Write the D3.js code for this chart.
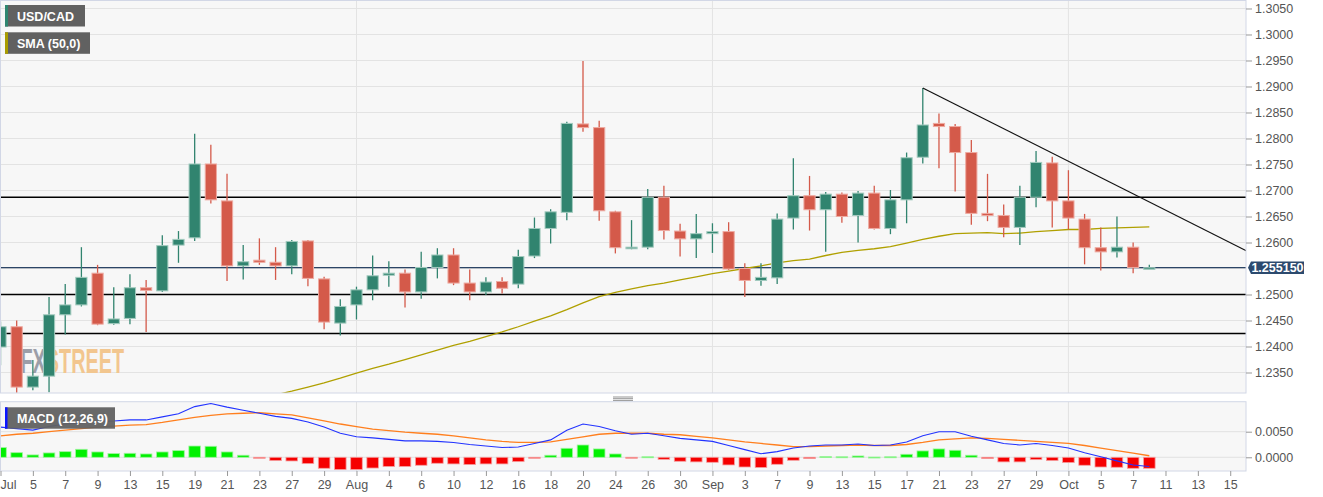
<!DOCTYPE html>
<html><head><meta charset="utf-8">
<script src="https://cdn.jsdelivr.net/npm/d3@7"></script>
<style>
html,body{margin:0;padding:0;background:#fff;}
svg{display:block;font-family:Arial,"Liberation Sans",sans-serif;}
</style></head>
<body>
<svg id="chart" width="1323" height="497"></svg>
<script>
// ---------- DATA ----------
const opens = [
 1.2399,1.2438,1.2322,1.2343,1.2461,1.2480,1.2541,1.2444,1.2454,1.2513,
 1.2507,1.2595,1.2609,1.2751,1.2680,1.2555,1.2566,1.2562,1.2555,1.2603,
 1.2530,1.2445,1.2480,1.2509,1.2537,1.2541,1.2505,1.2552,1.2576,1.2522,
 1.2505,1.2525,1.2520,1.2574,1.2627,1.2658,1.2828,1.2821,1.2659,1.2588,
 1.2591,1.2687,1.2622,1.2607,1.2617,1.2621,1.2550,1.2527,1.2532,1.2647,
 1.2690,1.2663,1.2693,1.2652,1.2695,1.2627,1.2682,1.2764,1.2829,1.2823,
 1.2773,1.2656,1.2652,1.2629,1.2687,1.2753,1.2680,1.2645,1.2590,1.2582,1.2591,1.2550];
const highs = [
 1.2448,1.2450,1.2374,1.2495,1.2520,1.2591,1.2557,1.2514,1.2539,1.2528,
 1.2614,1.2622,1.2809,1.2788,1.2732,1.2595,1.2608,1.2591,1.2605,1.2605,
 1.2534,1.2491,1.2515,1.2575,1.2564,1.2548,1.2582,1.2589,1.2589,1.2548,
 1.2533,1.2533,1.2586,1.2648,1.2664,1.2832,1.2949,1.2834,1.2661,1.2643,
 1.2703,1.2709,1.2636,1.2655,1.2637,1.2639,1.2560,1.2560,1.2656,1.2762,
 1.2728,1.2697,1.2696,1.2699,1.2709,1.2701,1.2773,1.2897,1.2848,1.2828,
 1.2797,1.2732,1.2673,1.2709,1.2776,1.2765,1.2739,1.2655,1.2629,1.2650,1.2600,1.2557];
const lows = [
 1.2364,1.2311,1.2316,1.2312,1.2423,1.2477,1.2441,1.2442,1.2443,1.2428,
 1.2505,1.2561,1.2603,1.2675,1.2526,1.2529,1.2557,1.2528,1.2539,1.2516,
 1.2433,1.2421,1.2452,1.2489,1.2515,1.2475,1.2492,1.2531,1.2518,1.2489,
 1.2499,1.2502,1.2512,1.2570,1.2598,1.2643,1.2813,1.2642,1.2579,1.2587,
 1.2587,1.2606,1.2573,1.2570,1.2580,1.2547,1.2495,1.2517,1.2520,1.2625,
 1.2623,1.2582,1.2638,1.2600,1.2625,1.2616,1.2637,1.2752,1.2743,1.2698,
 1.2634,1.2641,1.2610,1.2595,1.2668,1.2629,1.2625,1.2558,1.2546,1.2571,1.2541,1.2550];
const closes = [
 1.2438,1.2322,1.2343,1.2461,1.2480,1.2533,1.2443,1.2453,1.2513,1.2508,
 1.2594,1.2606,1.2751,1.2682,1.2555,1.2563,1.2562,1.2555,1.2602,1.2531,
 1.2447,1.2477,1.2509,1.2536,1.2541,1.2505,1.2552,1.2576,1.2522,1.2505,
 1.2524,1.2512,1.2573,1.2627,1.2659,1.2829,1.2821,1.2661,1.2590,1.2591,
 1.2687,1.2623,1.2607,1.2617,1.2621,1.2549,1.2527,1.2533,1.2645,1.2690,
 1.2663,1.2693,1.2650,1.2695,1.2627,1.2682,1.2763,1.2826,1.2823,1.2773,
 1.2656,1.2652,1.2629,1.2687,1.2754,1.2680,1.2647,1.2590,1.2582,1.2591,1.2552,1.25515];
const sma50 = [
 null,null,null,null,null,null,null,null,null,null,
 null,null,null,null,null,null,null,1.2307,1.2314,1.2322,
 1.2330,1.2339,1.2349,1.2358,1.2366,1.2375,1.2384,1.2393,1.2402,1.2410,
 1.2419,1.2428,1.2438,1.2449,1.2459,1.2471,1.2484,1.2496,1.2504,1.2511,
 1.2517,1.2522,1.2528,1.2534,1.2540,1.2545,1.2550,1.2555,1.2561,1.2565,
 1.2568,1.2575,1.2581,1.2585,1.2588,1.2592,1.2599,1.2606,1.2612,1.2617,
 1.2618,1.2619,1.2617,1.2618,1.2621,1.2623,1.2625,1.2625,1.2627,1.2628,1.2629,1.2630];
const macdLine = [
 0.0059,0.0056,0.0053,0.0060,0.0065,0.0067,0.0070,0.0071,0.0073,0.0073,
 0.0079,0.0085,0.0099,0.0105,0.0098,0.0092,0.0086,0.0080,0.0076,0.0069,
 0.0059,0.0047,0.0040,0.0038,0.0035,0.0032,0.0032,0.0031,0.0029,0.0025,
 0.0022,0.0019,0.0020,0.0027,0.0034,0.0053,0.0065,0.0060,0.0052,0.0045,
 0.0047,0.0042,0.0037,0.0034,0.0031,0.0023,0.0015,0.0007,0.0011,0.0018,
 0.0022,0.0024,0.0024,0.0026,0.0023,0.0024,0.0030,0.0042,0.0050,0.0050,
 0.0041,0.0034,0.0027,0.0024,0.0027,0.0023,0.0018,0.0009,0.0001,-0.0007,-0.0015,-0.0018];
const signalLine = [
 0.0042,0.0045,0.0047,0.0050,0.0053,0.0056,0.0059,0.0061,0.0063,0.0064,
 0.0068,0.0073,0.0078,0.0082,0.0085,0.0086,0.0087,0.0085,0.0083,0.0077,
 0.0071,0.0065,0.0060,0.0055,0.0052,0.0049,0.0047,0.0045,0.0042,0.0038,
 0.0034,0.0031,0.0029,0.0029,0.0030,0.0035,0.0040,0.0045,0.0047,0.0047,
 0.0047,0.0045,0.0044,0.0041,0.0038,0.0034,0.0030,0.0027,0.0024,0.0021,
 0.0021,0.0022,0.0023,0.0024,0.0023,0.0023,0.0025,0.0029,0.0034,0.0036,
 0.0038,0.0037,0.0035,0.0033,0.0031,0.0029,0.0027,0.0023,0.0018,0.0013,0.0008,0.0003];
const histogram = [
 0.0019,0.0009,0.00046,0.00085,0.0011,0.00156,0.00104,0.00072,0.00078,0.00065,
 0.00104,0.0013,0.0022,0.00215,0.00104,0.0004,-0.0002,-0.00065,-0.00072,-0.00124,
 -0.00215,-0.0024,-0.0024,-0.0021,-0.0018,-0.0018,-0.00156,-0.00117,-0.0013,-0.00143,
 -0.0013,-0.0013,-0.00085,-0.0002,0.0004,0.00176,0.0024,0.00163,0.00065,-0.0001,
 0.0001,-0.0004,-0.00078,-0.0009,-0.00098,-0.0015,-0.0019,-0.002,-0.00137,-0.00059,
 -0.00026,0.00013,0.0001,0.00026,0.00005,0.0001,0.00059,0.00124,0.00163,0.00137,
 0.0004,-0.00026,-0.0009,-0.0009,-0.00046,-0.00065,-0.00104,-0.00156,-0.0019,-0.00195,-0.00215,-0.00215];
const priceTicks = [1.2350,1.2400,1.2450,1.2500,1.2550,1.2600,1.2650,1.2700,1.2750,1.2800,1.2850,1.2900,1.2950,1.3000,1.3050];
const macdTicks = [0.0000,0.0050];
const xTickLabels = ["Jul","5","7","9","13","15","19","21","23","27","29",
 "Aug","4","6","10","12","16","18","20","24","26","30",
 "Sep","3","7","9","13","15","17","21","23","27","29",
 "Oct","5","7","11","13","15"];
const monthStartIdx = [22,44,66];
const levelLines = [1.2687,1.2500,1.2425];
const trendLine = [[57,1.2897],[77,1.2584]];
const currentPrice = 1.255150;
const legendItems = [{label:"USD/CAD",color:"#2f8670"},{label:"SMA (50,0)",color:"#a99c00"}];
const macdLegend = {label:"MACD (12,26,9)",color:"#0a14ff"};
const watermarkText = "FXSTREET";
const watermarkColors = ["#9c9ea8","#f2c68f"];

// ---------- LAYOUT ----------
const plotL = 0, plotR = 1246;
const mainTop = 1, mainBot = 393;
const macdTop = 401.7, macdBot = 471;
const svg = d3.select("#chart");

const x = d3.scaleLinear().domain([0,77]).range([0.5, 1246.4]);
const y = d3.scaleLinear().domain([1.23106,1.30644]).range([mainBot, mainTop]);
const ym = d3.scaleLinear().domain([-0.00268,0.01086]).range([macdBot, macdTop]);

const defs = svg.append("defs");
defs.append("clipPath").attr("id","clipMain").append("rect")
  .attr("x",plotL).attr("y",mainTop).attr("width",plotR-plotL).attr("height",mainBot-mainTop);
defs.append("clipPath").attr("id","clipMacd").append("rect")
  .attr("x",plotL).attr("y",macdTop).attr("width",plotR-plotL).attr("height",macdBot-macdTop);
// two-colour fill for the single watermark word (grey "FX", orange "STREET")
const wg = defs.append("linearGradient").attr("id","wmGrad")
  .attr("gradientUnits","userSpaceOnUse").attr("x1",20.5).attr("x2",124).attr("y1",0).attr("y2",0);
const split = (43.5-20.5)/(124-20.5);
wg.append("stop").attr("offset",0).attr("stop-color",watermarkColors[0]);
wg.append("stop").attr("offset",split).attr("stop-color",watermarkColors[0]);
wg.append("stop").attr("offset",split).attr("stop-color",watermarkColors[1]);
wg.append("stop").attr("offset",1).attr("stop-color",watermarkColors[1]);

svg.append("rect").attr("x",plotL).attr("y",mainTop).attr("width",plotR-plotL).attr("height",mainBot-mainTop).attr("fill","#f7f7f7");
svg.append("rect").attr("x",plotL).attr("y",macdTop).attr("width",plotR-plotL).attr("height",macdBot-macdTop).attr("fill","#f7f7f7");

const gMain = svg.append("g").attr("clip-path","url(#clipMain)");
gMain.selectAll("line.hg").data(priceTicks).enter().append("line")
  .attr("x1",plotL).attr("x2",plotR).attr("y1",d=>y(d)).attr("y2",d=>y(d))
  .attr("stroke","#e3e3e3").attr("stroke-width",1);
gMain.selectAll("line.vg").data(monthStartIdx).enter().append("line")
  .attr("x1",d=>x(d)).attr("x2",d=>x(d)).attr("y1",mainTop).attr("y2",mainBot)
  .attr("stroke","#e3e3e3").attr("stroke-width",1);

// watermark
gMain.append("text").attr("x",20.5).attr("y",372.7)
  .attr("font-family","'Liberation Sans Narrow','Arial Narrow',Arial,sans-serif")
  .attr("font-weight","bold").attr("font-size",35)
  .attr("textLength",103.5).attr("lengthAdjust","spacingAndGlyphs")
  .attr("fill","url(#wmGrad)").text(watermarkText);

gMain.selectAll("line.lvl").data(levelLines).enter().append("line")
  .attr("x1",plotL).attr("x2",plotR).attr("y1",d=>y(d)).attr("y2",d=>y(d))
  .attr("stroke","#000").attr("stroke-width",1.3);

gMain.append("line").attr("x1",plotL).attr("x2",plotR)
  .attr("y1",y(currentPrice)).attr("y2",y(currentPrice))
  .attr("stroke","#2c4566").attr("stroke-width",1.2);

gMain.append("path").datum(sma50.map((v,i)=>[i,v]))
  .attr("fill","none").attr("stroke","#b0a000").attr("stroke-width",1.3)
  .attr("d", d3.line().defined(d=>d[1]!==null).x(d=>x(d[0])).y(d=>y(d[1])));

const candles = opens.map((o,i)=>({i,o,h:highs[i],l:lows[i],c:closes[i]}));
const up = "#31846f", down = "#d45a4a";
const cg = gMain.selectAll("g.c").data(candles).enter().append("g");
cg.append("line").attr("x1",d=>x(d.i)).attr("x2",d=>x(d.i))
  .attr("y1",d=>y(d.h)).attr("y2",d=>y(d.l))
  .attr("stroke",d=>d.c>=d.o?up:down).attr("stroke-width",1.3);
cg.append("rect")
  .attr("x",d=>x(d.i)-5.6).attr("width",11.2)
  .attr("y",d=>y(Math.max(d.o,d.c)))
  .attr("height",d=>Math.max(1.6, Math.abs(y(d.o)-y(d.c))))
  .attr("fill",d=>d.c>=d.o?up:down)
  .attr("stroke",d=>d.c>=d.o?"#a3cbbf":"#eeaaa1").attr("stroke-width",1);

gMain.append("line")
  .attr("x1",x(trendLine[0][0])).attr("y1",y(trendLine[0][1]))
  .attr("x2",x(trendLine[1][0])).attr("y2",y(trendLine[1][1]))
  .attr("stroke","#111").attr("stroke-width",1.2);

svg.append("rect").attr("x",plotL+0.5).attr("y",mainTop-0.5).attr("width",plotR-plotL-0.5).attr("height",mainBot-mainTop+0.5)
  .attr("fill","none").attr("stroke","#d2d7e6").attr("stroke-width",1);

// right price axis (the label hidden behind the current-price tag is skipped)
const cpY = y(currentPrice);
const yAxis = d3.axisRight(y).tickValues(priceTicks).tickFormat(d3.format(".4f")).tickSize(6).tickPadding(3);
const ga = svg.append("g").attr("transform",`translate(${plotR},0)`).call(yAxis);
ga.select(".domain").remove();
ga.selectAll(".tick line").attr("stroke","#999");
ga.selectAll(".tick text").attr("fill","#555").attr("font-size",12.5).attr("font-family","Arial,'Liberation Sans',sans-serif");
ga.selectAll(".tick").filter(d=>Math.abs(y(d)-cpY)<12).remove();

svg.append("path")
  .attr("d",`M${plotR+2},${cpY} L${plotR+5},${cpY-6.3} L${plotR+58},${cpY-6.3} L${plotR+58},${cpY+6.3} L${plotR+5},${cpY+6.3} Z`)
  .attr("fill","#2c4a6e");
svg.append("text").attr("x",plotR+31.5).attr("y",cpY+4.3).attr("text-anchor","middle")
  .attr("fill","#fff").attr("font-weight","bold").attr("font-size",12.5).text(d3.format(".6f")(currentPrice));

const lg = svg.selectAll("g.leg").data(legendItems).enter().append("g")
  .attr("transform",(d,i)=>`translate(5,${5+i*27.3})`);
lg.append("rect").attr("width",(d,i)=>i===0?80:85).attr("height",21.5).attr("fill","#616161");
lg.append("rect").attr("width",3).attr("height",21.5).attr("fill",d=>d.color);
lg.append("text").attr("x",12).attr("y",15.5).attr("fill","#fff").attr("font-size",12.5).attr("font-weight","bold").text(d=>d.label);

// ---------- MACD panel ----------
const gM = svg.append("g").attr("clip-path","url(#clipMacd)");
gM.selectAll("line.hg").data(macdTicks).enter().append("line")
  .attr("x1",plotL).attr("x2",plotR).attr("y1",d=>ym(d)).attr("y2",d=>ym(d))
  .attr("stroke","#e1e1e1");
gM.selectAll("line.vg").data(monthStartIdx).enter().append("line")
  .attr("x1",d=>x(d)).attr("x2",d=>x(d)).attr("y1",macdTop).attr("y2",macdBot)
  .attr("stroke","#e1e1e1");
gM.selectAll("rect.h").data(histogram).enter().append("rect")
  .attr("x",(d,i)=>x(i)-5.8).attr("width",11.6)
  .attr("y",d=>d>=0?ym(d):ym(0))
  .attr("height",d=>Math.max(1, Math.abs(ym(d)-ym(0))))
  .attr("fill",d=>d>=0?"#00f000":"#f50000")
  .attr("stroke",d=>d>=0?"#9df59d":"#f7a0a0").attr("stroke-width",0.8);
gM.append("path").datum(signalLine).attr("fill","none").attr("stroke","#ff7f1e").attr("stroke-width",1.3)
  .attr("d",d3.line().x((d,i)=>x(i)).y(d=>ym(d)));
gM.append("path").datum(macdLine).attr("fill","none").attr("stroke","#2233ff").attr("stroke-width",1.1)
  .attr("d",d3.line().x((d,i)=>x(i)).y(d=>ym(d)));

svg.append("rect").attr("x",plotL+0.5).attr("y",macdTop).attr("width",plotR-plotL-0.5).attr("height",macdBot-macdTop)
  .attr("fill","none").attr("stroke","#d2d7e6").attr("stroke-width",1);

const ml = svg.append("g").attr("transform","translate(5,407.3)");
ml.append("rect").attr("width",110).attr("height",21.4).attr("fill","#616161").attr("opacity",0.95);
ml.append("rect").attr("width",2.5).attr("height",21.4).attr("fill",macdLegend.color);
ml.append("text").attr("x",12).attr("y",15.3).attr("fill","#fff").attr("font-size",12.5).attr("font-weight","bold").text(macdLegend.label);

const ymAxis = d3.axisRight(ym).tickValues(macdTicks).tickFormat(d3.format(".4f")).tickSize(6).tickPadding(3);
const gma = svg.append("g").attr("transform",`translate(${plotR},0)`).call(ymAxis);
gma.select(".domain").remove();
gma.selectAll(".tick line").attr("stroke","#999");
gma.selectAll(".tick text").attr("fill","#555").attr("font-size",12.5).attr("font-family","Arial,'Liberation Sans',sans-serif");

const xIdx = xTickLabels.map((d,i)=>i*2);
const xAxis = d3.axisBottom(x).tickValues(xIdx).tickFormat((d,i)=>xTickLabels[i]).tickSize(5).tickPadding(4);
const gx = svg.append("g").attr("transform",`translate(0,${macdBot})`).call(xAxis);
gx.select(".domain").remove();
gx.selectAll(".tick line").attr("stroke","#999");
gx.selectAll(".tick text").attr("fill","#555").attr("font-size",12.5).attr("font-family","Arial,'Liberation Sans',sans-serif");
gx.selectAll(".tick text").filter((d,i)=>i===0).attr("text-anchor","start").attr("x",-0.5);

svg.selectAll("line.sp").data([397,398.7,400.4]).enter().append("line")
  .attr("x1",613).attr("x2",633).attr("y1",d=>d).attr("y2",d=>d)
  .attr("stroke","#8a8a8a").attr("stroke-width",0.9);
</script>
</body></html>
